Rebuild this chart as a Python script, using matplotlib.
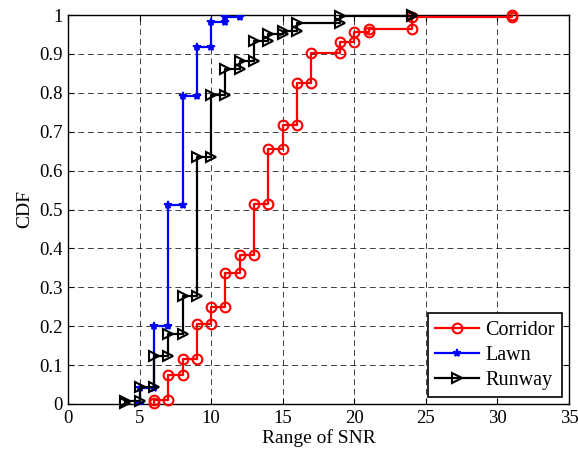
import matplotlib
matplotlib.use("Agg")
import matplotlib.pyplot as plt
import numpy as np

# Data: step locations (x) and CDF level after each step; *_f0 = level before first step
corridor_x = [6, 7, 8, 9, 10, 11, 12, 13, 14, 15, 16, 17, 19, 20, 21, 24, 31]
corridor_cdf = [0.01, 0.074, 0.115, 0.205, 0.25, 0.338, 0.382, 0.514, 0.656, 0.718,
                0.824, 0.903, 0.93, 0.956, 0.963, 0.995, 1.0]
corridor_f0 = 0.003

lawn_x = [5, 6, 7, 8, 9, 10, 11, 12]
lawn_cdf = [0.04, 0.2, 0.512, 0.792, 0.918, 0.983, 0.995, 1.0]
lawn_f0 = 0.0

runway_x = [4, 5, 6, 7, 8, 9, 10, 11, 12, 13, 14, 15, 16, 19, 24]
runway_cdf = [0.008, 0.044, 0.123, 0.18, 0.278, 0.635, 0.794, 0.861, 0.882, 0.933,
              0.951, 0.959, 0.98, 0.997, 1.0]
runway_f0 = 0.003

labels = ["Corridor", "Lawn", "Runway"]
xticks = [0, 5, 10, 15, 20, 25, 30, 35]
yticks = [0, 0.1, 0.2, 0.3, 0.4, 0.5, 0.6, 0.7, 0.8, 0.9, 1]
ytick_labels = ["0", "0.1", "0.2", "0.3", "0.4", "0.5", "0.6", "0.7", "0.8", "0.9", "1"]


def stairs(x, f, f0):
    xs, ys = [], []
    prev = f0
    for xi, fi in zip(x, f):
        xs += [xi, xi]
        ys += [prev, fi]
        prev = fi
    return np.array(xs), np.array(ys)


plt.rcParams['font.family'] = ['Liberation Serif', 'DejaVu Serif']

fig = plt.figure(figsize=(5.78, 4.53), dpi=100)
ax = fig.add_axes([68 / 578, 49 / 453, 501 / 578, 389 / 453])

xs, ys = stairs(corridor_x, corridor_cdf, corridor_f0)
ax.plot(xs, ys, color='red', lw=1.6, marker='o', ms=7, mfc='none', mew=1.5,
        label=labels[0], clip_on=False, zorder=3)
xs, ys = stairs(lawn_x, lawn_cdf, lawn_f0)
ax.plot(xs, ys, color='blue', lw=1.6, marker='*', ms=6, mew=1.2,
        label=labels[1], clip_on=True, zorder=4)
xs, ys = stairs(runway_x, runway_cdf, runway_f0)
ax.plot(xs, ys, color='black', lw=1.6, marker='>', ms=7.5, mfc='none', mew=1.5,
        label=labels[2], clip_on=False, zorder=5)

ax.set_xlim(0, 35)
ax.set_ylim(0, 1)
ax.set_xticks(xticks)
ax.set_yticks(yticks)
ax.set_yticklabels(ytick_labels)
ax.tick_params(direction='in', top=True, right=True, labelsize=13.5, length=4, width=0.8, pad=4)
ax.grid(True, color='black', linestyle=(0, (6, 4)), linewidth=0.7, alpha=0.75)
for s in ax.spines.values():
    s.set_linewidth(1.0)
ax.set_xlabel("Range of SNR", fontsize=14, labelpad=2)
ax.set_ylabel("CDF", fontsize=14, labelpad=4)

leg = ax.legend(loc='lower right', fontsize=14.5, frameon=True, fancybox=False,
                edgecolor='black', framealpha=1, borderaxespad=0.35,
                handlelength=2.2, labelspacing=0.3, borderpad=0.35, handletextpad=0.3)
leg.get_frame().set_linewidth(1.2)

fig.savefig("out.png", dpi=100)
